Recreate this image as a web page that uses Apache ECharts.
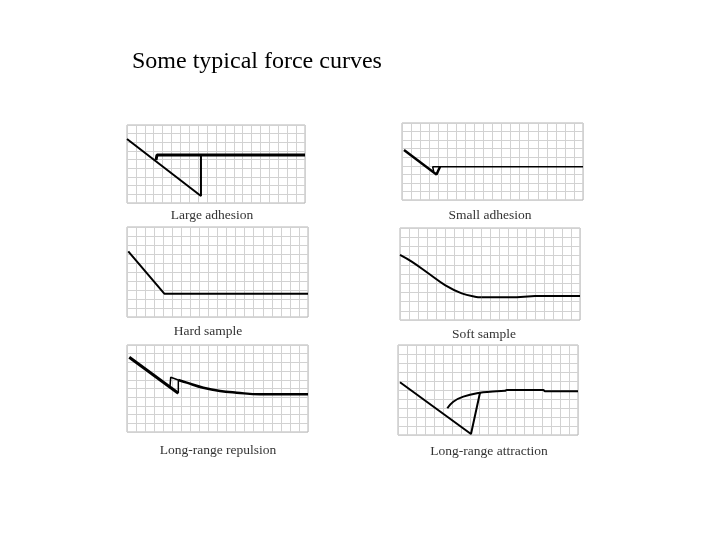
<!DOCTYPE html>
<html><head><meta charset="utf-8">
<script src="https://cdn.jsdelivr.net/npm/echarts@6/dist/echarts.min.js"></script>
<style>html,body{margin:0;padding:0;background:#fff}#c{width:720px;height:540px}</style>
</head><body><div id="c"></div>
<script>
// Chart title and panel captions
const chartTitle = 'Some typical force curves';
const panelLabels = ['Large adhesion','Small adhesion','Hard sample','Soft sample','Long-range repulsion','Long-range attraction'];

// Curve segments per panel, [x, y] in grid units (x 0..20, y 0..yMax)
const largeAdhesionContact = [[0,7.38],[8.31,0.81],[8.31,5.54]];
const largeAdhesionFree = [[3.26,4.96],[3.37,5.54],[20,5.54]];

const smallAdhesionContact = [[0.22,5.84],[3.81,2.98],[4.2,3.89]];
const smallAdhesionFree = [[3.5,3.35],[3.39,3.89],[20,3.89]];

const hardSample = [[0.14,7.3],[4.12,2.59],[20,2.59]];

const softSampleCurve = [[0,7.07],[1.3,6.34],[3.14,5.08],[5.0,3.8],[6.86,2.9],[8.33,2.53],[9.08,2.47]];
const softSampleFlat = [[9.08,2.47],[12.97,2.47],[15.0,2.61],[20,2.61]];

const repulsionContact = [[0.25,8.59],[5.67,4.45]];
const repulsionJump = [[4.75,5.21],[4.83,6.29],[5.67,5.98],[5.67,4.45]];
const repulsionCurve = [[5.67,5.98],[6.6,5.67],[8.43,5.09],[10.28,4.71],[12.12,4.52],[14.7,4.33],[20,4.33]];

const attractionContact = [[0.22,5.86],[8.11,0.11],[9.11,4.7]];
const attractionCurve = [[5.48,2.97],[6.14,3.7],[7.26,4.26],[9.11,4.7],[10.22,4.81],[11.89,4.92],[12.08,5.0],[16.14,5.0],[16.33,4.86],[20,4.86]];

// Panel layout (pixels) and y range
const panels = [
  {left:127, top:125, width:178, height:78, yMax:9, lx:212, ly:215},
  {left:402, top:123, width:181, height:77, yMax:9, lx:490, ly:215},
  {left:127, top:227, width:181, height:90, yMax:10, lx:208, ly:331},
  {left:400, top:228, width:180, height:92, yMax:10, lx:484, ly:334},
  {left:127, top:345, width:181, height:87, yMax:10, lx:218, ly:450},
  {left:398, top:345, width:180, height:90, yMax:10, lx:489, ly:451}
];

const segs = [
  {p:0, d:largeAdhesionContact, w:2},
  {p:0, d:largeAdhesionFree, w:3},
  {p:1, d:smallAdhesionContact, w:2.5},
  {p:1, d:smallAdhesionFree, w:1.5},
  {p:2, d:hardSample, w:2},
  {p:3, d:softSampleCurve, w:2, s:true},
  {p:3, d:softSampleFlat, w:2},
  {p:4, d:repulsionContact, w:3},
  {p:4, d:repulsionJump, w:1.5},
  {p:4, d:repulsionCurve, w:2.5, s:true},
  {p:5, d:attractionContact, w:2},
  {p:5, d:attractionCurve, w:2, s:true}
];

const serif = '"Liberation Serif", "DejaVu Serif", serif';
const option = {
  animation:false,
  backgroundColor:'#fff',
  title:{text:chartTitle,left:127,top:45,textStyle:{fontFamily:serif,fontSize:24,fontWeight:'normal',color:'#000'}},
  grid: panels.map(p=>({left:p.left,top:p.top,width:p.width,height:p.height,show:true,borderColor:'#b4b4b4',borderWidth:1,backgroundColor:'#fff'})),
  xAxis: panels.map((p,i)=>({type:'value',gridIndex:i,min:0,max:20,interval:1,axisLabel:{show:false},axisTick:{show:false},axisLine:{show:false},splitLine:{show:true,lineStyle:{color:'#d2d2d2',width:1}}})),
  yAxis: panels.map((p,i)=>({type:'value',gridIndex:i,min:0,max:p.yMax,interval:1,axisLabel:{show:false},axisTick:{show:false},axisLine:{show:false},splitLine:{show:true,lineStyle:{color:'#d2d2d2',width:1}}})),
  series: segs.map(s=>({type:'line',xAxisIndex:s.p,yAxisIndex:s.p,data:s.d,showSymbol:false,symbol:'none',smooth:s.s?0.4:false,lineStyle:{color:'#000',width:s.w},silent:true})),
  graphic: panels.map((p,i)=>({type:'text',x:p.lx,y:p.ly,style:{text:panelLabels[i],fontFamily:serif,fontSize:13.5,fill:'#333',align:'center',verticalAlign:'middle'}}))
};
echarts.init(document.getElementById('c'),null,{renderer:'canvas'}).setOption(option);
</script></body></html>
